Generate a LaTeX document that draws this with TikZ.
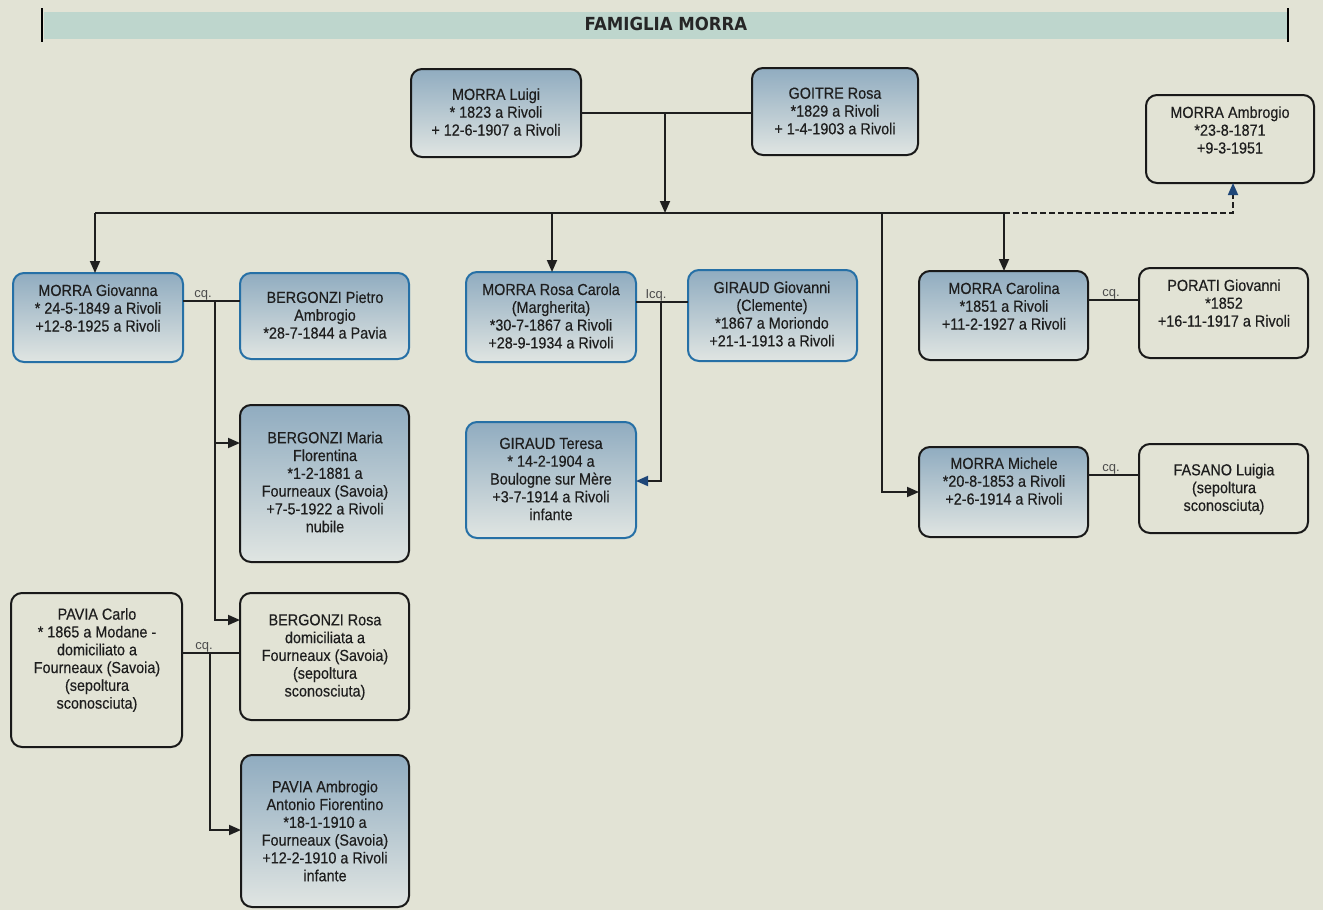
\documentclass[tikz,border=0pt]{standalone}
\usepackage{fontspec}
\setmainfont{Liberation Sans}[FakeStretch=0.9,FakeBold=0.35]
\newfontfamily\titlefont{DejaVu Sans}[FakeStretch=0.92]
\newfontfamily\cqfont{Liberation Sans}
\usetikzlibrary{arrows.meta}
\definecolor{bg}{RGB}{226,227,213}
\definecolor{band}{RGB}{190,214,205}
\definecolor{boxtop}{RGB}{144,172,192}
\definecolor{boxbot}{RGB}{224,229,226}
\definecolor{bordblue}{RGB}{38,112,166}
\definecolor{txtc}{RGB}{30,30,30}
\definecolor{arrblue}{RGB}{30,70,120}
\tikzset{
  box/.style={draw=black!90, rounded corners=11pt, line width=2pt, inner sep=0pt, outer sep=0pt},
  shd/.style={top color=boxtop, bottom color=boxbot},
  plainbox/.style={fill=bg},
  bluebd/.style={draw=bordblue},
  txt/.style={align=center, font=\fontsize{16}{17.8}\selectfont, text=txtc, inner sep=0pt},
  conn/.style={line width=1.8pt, draw=black!88},
  arr/.style={conn, -{Triangle[length=12pt,width=10pt]}},
  barr/.style={conn, -{Triangle[length=12pt,width=10pt,color=arrblue]}},
  cqlab/.style={font=\cqfont\fontsize{13}{13}\selectfont, text=black!70, inner sep=0pt, anchor=base},
}
\newcommand\mkbox[6]{\node[box,#6,minimum width={(#4)-(#2)},minimum height={(#5)-(#3)}] (#1) at ({((#2)+(#4))/2},{((#3)+(#5))/2}) {};}
\begin{document}
\begin{tikzpicture}[x=1pt,y=-1pt]
\fill[bg] (0,0) rectangle (1323,910);
\useasboundingbox (0,0) rectangle (1323,910);
% title band
\fill[band] (44,12) rectangle (1287,39);
\draw[line width=2pt] (42,8) -- (42,42);
\draw[line width=2pt] (1288,8) -- (1288,42);
\node[font=\titlefont\bfseries\fontsize{18}{20}\selectfont, text=black!85] (title) at (666,24) {FAMIGLIA MORRA};

% boxes
\mkbox{luigi}{411}{69}{581}{157}{shd}
\mkbox{goitre}{752}{68}{918}{155}{shd}
\mkbox{ambro}{1146}{95}{1314}{183}{plainbox}
\mkbox{gio}{13}{273}{183}{362}{shd,bluebd}
\mkbox{pietro}{240}{273}{409}{359}{shd,bluebd}
\mkbox{maria}{240}{405}{409}{562}{shd}
\mkbox{rosab}{240}{593}{409}{720}{plainbox}
\mkbox{pcarlo}{11}{593}{182}{747}{plainbox}
\mkbox{pamb}{241}{755}{409}{907}{shd}
\mkbox{rosac}{466}{272}{636}{362}{shd,bluebd}
\mkbox{ggio}{688}{270}{857}{361}{shd,bluebd}
\mkbox{teresa}{466}{422}{636}{538}{shd,bluebd}
\mkbox{carol}{919}{271}{1088}{360}{shd}
\mkbox{porati}{1139}{268}{1308}{358}{plainbox}
\mkbox{michele}{919}{447}{1088}{537}{shd}
\mkbox{fasano}{1139}{444}{1308}{533}{plainbox}

% texts
\node[txt] (luigi-t) at (496,112) {MORRA Luigi\\* 1823 a Rivoli\\+ 12-6-1907 a Rivoli};
\node[txt] (goitre-t) at (835,111) {GOITRE Rosa\\*1829 a Rivoli\\+ 1-4-1903 a Rivoli};
\node[txt] (ambro-t) at (1230,130) {MORRA Ambrogio\\*23-8-1871\\+9-3-1951};
\node[txt] (gio-t) at (98,308) {MORRA Giovanna\\* 24-5-1849 a Rivoli\\+12-8-1925 a Rivoli};
\node[txt] (pietro-t) at (325,315) {BERGONZI Pietro\\Ambrogio\\*28-7-1844 a Pavia};
\node[txt] (maria-t) at (325,482) {BERGONZI Maria\\Florentina\\*1-2-1881 a\\Fourneaux (Savoia)\\+7-5-1922 a Rivoli\\nubile};
\node[txt] (rosab-t) at (325,657) {BERGONZI Rosa\\domiciliata a\\Fourneaux (Savoia)\\(sepoltura\\sconosciuta)};
\node[txt] (pcarlo-t) at (97,660) {PAVIA Carlo\\* 1865 a Modane -\\domiciliato a\\Fourneaux (Savoia)\\(sepoltura\\sconosciuta)};
\node[txt] (pamb-t) at (325,831) {PAVIA Ambrogio\\Antonio Fiorentino\\*18-1-1910 a\\Fourneaux (Savoia)\\+12-2-1910 a Rivoli\\infante};
\node[txt] (rosac-t) at (551,316) {MORRA Rosa Carola\\(Margherita)\\*30-7-1867 a Rivoli\\+28-9-1934 a Rivoli};
\node[txt] (ggio-t) at (772,314) {GIRAUD Giovanni\\(Clemente)\\*1867 a Moriondo\\+21-1-1913 a Rivoli};
\node[txt] (teresa-t) at (551,479) {GIRAUD Teresa\\* 14-2-1904 a\\Boulogne sur Mère\\+3-7-1914 a Rivoli\\infante};
\node[txt] (carol-t) at (1004,306) {MORRA Carolina\\*1851 a Rivoli\\+11-2-1927 a Rivoli};
\node[txt] (porati-t) at (1224,303) {PORATI Giovanni\\*1852\\+16-11-1917 a Rivoli};
\node[txt] (michele-t) at (1004,481) {MORRA Michele\\*20-8-1853 a Rivoli\\+2-6-1914 a Rivoli};
\node[txt] (fasano-t) at (1224,489) {FASANO Luigia\\(sepoltura\\sconosciuta)};

% parents
\coordinate (m1) at (665,113);
\coordinate (hc) at (665,213);
\coordinate (hl) at (95,213);
\coordinate (d2) at (552,213);
\coordinate (d3) at (882,213);
\coordinate (hr) at (1004,213);
\coordinate (dc) at (1233,213);
\draw[conn] (luigi.east |- m1) -- (goitre.west |- m1);
\draw[arr] (m1) -- (hc);
\draw[conn] (hl) -- (hr);
\draw[arr] (hl) -- (hl |- gio.north);
\draw[arr] (d2) -- (d2 |- rosac.north);
\draw[arr] (d3) |- (michele.west);
\draw[arr] (hr) -- (hr |- carol.north);
\draw[barr, dash pattern=on 6pt off 3pt] (hr) -- (dc) -- (dc |- ambro.south);

% Giovanna x Bergonzi
\coordinate (c1) at (215,301);
\coordinate (vm) at (215,443);
\coordinate (vr) at (215,620);
\draw[conn] (gio.east |- c1) -- (pietro.west |- c1);
\draw[arr] (c1) |- (rosab.west |- vr);
\draw[arr] (vm) -- (vm -| maria.west);
\node[cqlab] (cq1) at (203,297) {cq.};

% Pavia x Bergonzi Rosa
\coordinate (c2) at (210,653);
\coordinate (va) at (210,830);
\draw[conn] (pcarlo.east |- c2) -- (rosab.west |- c2);
\draw[arr] (c2) |- (pamb.west |- va);
\node[cqlab] (cq2) at (204,649) {cq.};

% Rosa Carola x Giraud
\coordinate (c3) at (661,302);
\coordinate (vt) at (661,481);
\draw[conn] (rosac.east |- c3) -- (ggio.west |- c3);
\draw[barr] (c3) |- (teresa.east |- vt);
\node[cqlab] (cq3) at (656,298) {Icq.};

% Carolina x Porati
\coordinate (c4) at (1110,300);
\draw[conn] (carol.east |- c4) -- (porati.west |- c4);
\node[cqlab] (cq4) at (1111,296) {cq.};

% Michele x Fasano
\coordinate (c5) at (1110,475);
\draw[conn] (michele.east |- c5) -- (fasano.west |- c5);
\node[cqlab] (cq5) at (1111,471) {cq.};
\end{tikzpicture}
\end{document}
